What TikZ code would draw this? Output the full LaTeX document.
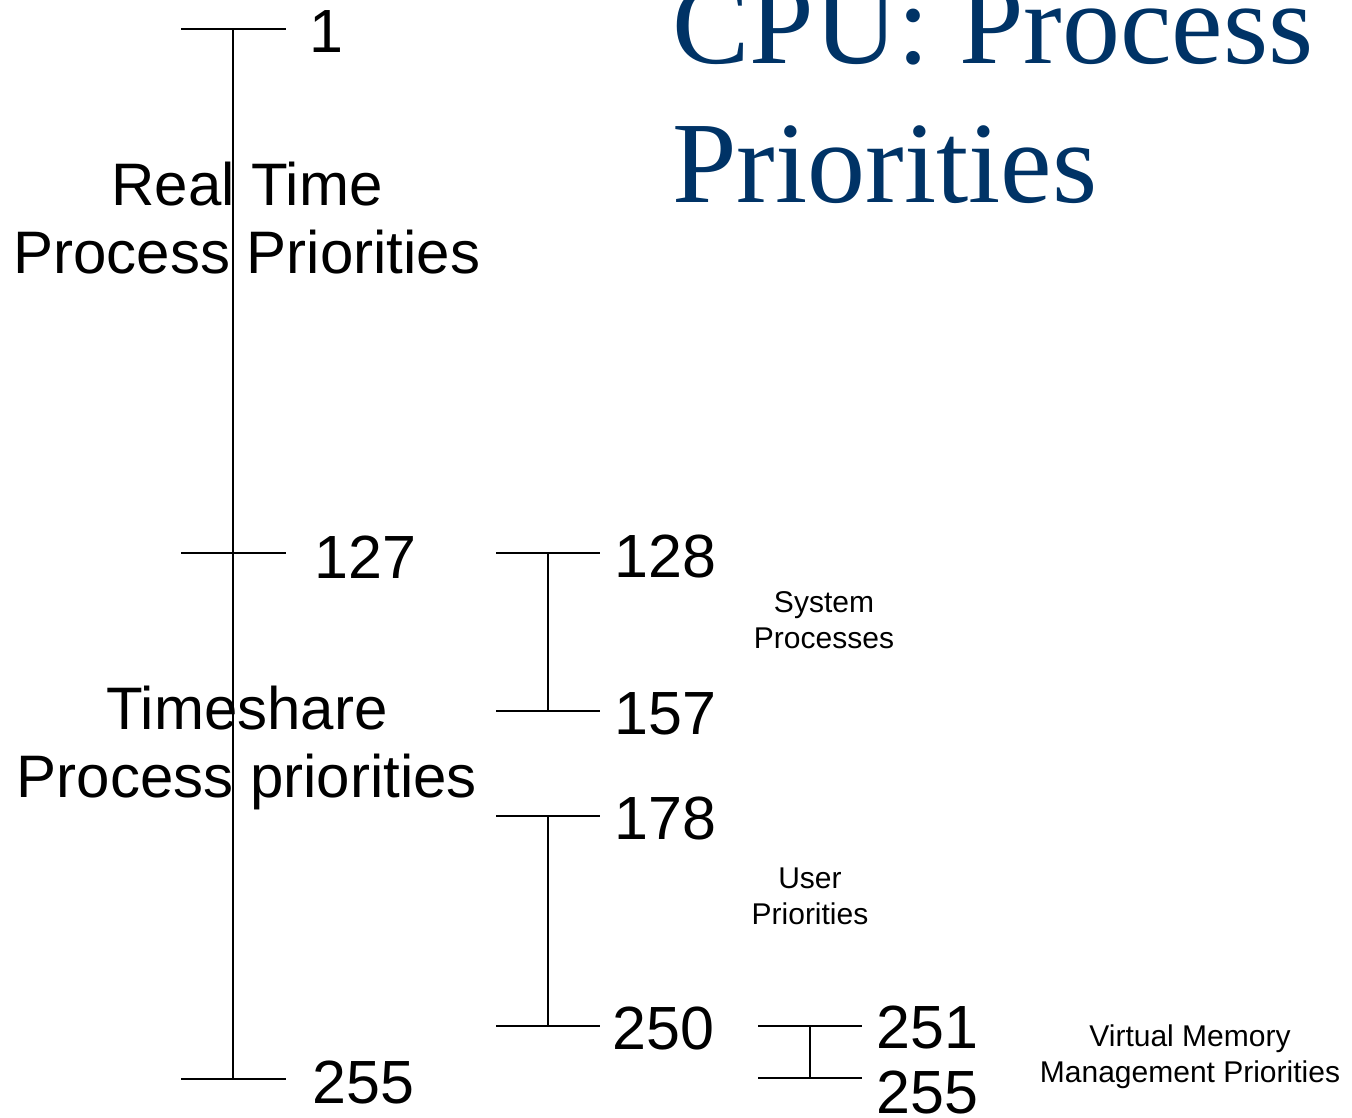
\documentclass[tikz,border=0pt]{standalone}
\usepackage{fontspec}
\setmainfont{Liberation Serif}
\newfontfamily\labelfont{Liberation Sans}
\definecolor{titleblue}{RGB}{0,51,102}
\begin{document}
\begin{tikzpicture}[x=1pt,y=-1pt,
  bracket/.style={line width=1.4pt, black},
  num/.style={font=\labelfont\fontsize{61}{69}\selectfont, anchor=base west, inner sep=0pt},
  classlabel/.style={font=\labelfont\fontsize{60}{68}\selectfont, align=center, anchor=base, inner sep=0pt},
  note/.style={font=\labelfont\fontsize{30}{35.5}\selectfont, align=center, anchor=base, inner sep=0pt},
  heading/.style={font=\fontsize{116}{139}\selectfont, text=titleblue, align=left, anchor=base west, inner sep=0pt}]
\useasboundingbox (0,0) rectangle (1352,1117);

% title (anchored on the baseline of its last line)
\node[heading] (title) at (672,202) {CPU: Process\\Priorities};

% main range 1..255
\coordinate (m1l) at (181,29);   \coordinate (m1r) at (286,29);
\coordinate (m2l) at (181,553);  \coordinate (m2r) at (286,553);
\coordinate (m3l) at (181,1079); \coordinate (m3r) at (286,1079);
\coordinate (mtop) at (233,29);  \coordinate (mbot) at (233,1079);
\draw[bracket] (m1l) -- (m1r);
\draw[bracket] (m2l) -- (m2r);
\draw[bracket] (m3l) -- (m3r);
\draw[bracket] (mtop) -- (mbot);

\node[num] (n1)   at (309,52)   {1};
\node[num] (n127) at (314,578)  {127};
\node[num] (n255) at (312,1103) {255};

\node[classlabel] (rt) at (247,273) {Real Time\\Process Priorities};
\node[classlabel] (ts) at (247,797) {Timeshare\\Process priorities};

% system processes 128..157
\coordinate (s1l) at (496,553); \coordinate (s1r) at (600,553);
\coordinate (s2l) at (496,711); \coordinate (s2r) at (600,711);
\coordinate (stop) at (548,553); \coordinate (sbot) at (548,711);
\draw[bracket] (s1l) -- (s1r);
\draw[bracket] (s2l) -- (s2r);
\draw[bracket] (stop) -- (sbot);
\node[num] (n128) at (614,577) {128};
\node[num] (n157) at (614,734) {157};
\node[note] (sys) at (824,648) {System\\Processes};

% user priorities 178..250
\coordinate (u1l) at (496,816);  \coordinate (u1r) at (600,816);
\coordinate (u2l) at (496,1026); \coordinate (u2r) at (600,1026);
\coordinate (utop) at (548,816); \coordinate (ubot) at (548,1026);
\draw[bracket] (u1l) -- (u1r);
\draw[bracket] (u2l) -- (u2r);
\draw[bracket] (utop) -- (ubot);
\node[num] (n178) at (614,839)  {178};
\node[num] (n250) at (612,1049) {250};
\node[note] (usr) at (810,924) {User\\Priorities};

% virtual memory management 251..255
\coordinate (v1l) at (758,1026); \coordinate (v1r) at (862,1026);
\coordinate (v2l) at (758,1078); \coordinate (v2r) at (862,1078);
\coordinate (vtop) at (810,1026); \coordinate (vbot) at (810,1078);
\draw[bracket] (v1l) -- (v1r);
\draw[bracket] (v2l) -- (v2r);
\draw[bracket] (vtop) -- (vbot);
\node[num] (n251)  at (876,1048) {251};
\node[num] (n255b) at (876,1113) {255};
\node[note] (vmm) at (1190,1082) {Virtual Memory\\Management Priorities};
\end{tikzpicture}
\end{document}
